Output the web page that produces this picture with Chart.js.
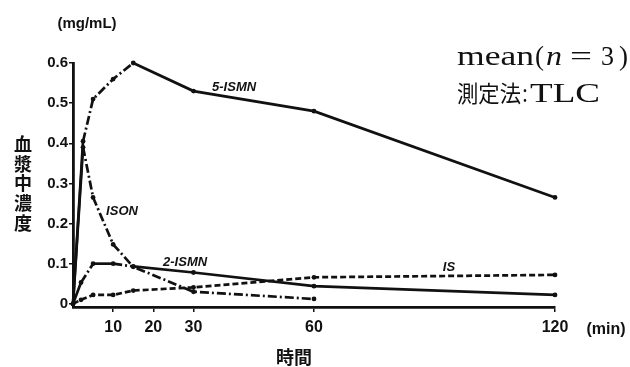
<!DOCTYPE html>
<html><head><meta charset="utf-8">
<script src="https://cdn.jsdelivr.net/npm/chart.js@4"></script>
<style>html,body{margin:0;padding:0;background:#fff}#wrap{width:630px;height:367px}</style>
</head><body><div id="wrap"><canvas id="c" width="630" height="367"></canvas></div>
<script>
// ---- data (time in min, plasma concentration in mg/mL) ----
const times5ISMN = [0, 2.5, 5, 10, 15, 30, 60, 120];
const values5ISMN = [0, 0.405, 0.51, 0.56, 0.60, 0.53, 0.48, 0.265];
const timesISON = [0, 2.5, 5, 10, 15, 30, 60];
const valuesISON = [0, 0.39, 0.265, 0.148, 0.092, 0.03, 0.012];
const times2ISMN = [0, 2, 5, 10, 15, 30, 60, 120];
const values2ISMN = [0, 0.053, 0.10, 0.10, 0.093, 0.078, 0.044, 0.022];
const timesIS = [0, 2, 5, 10, 15, 30, 60, 120];
const valuesIS = [0, 0.01, 0.022, 0.022, 0.033, 0.041, 0.066, 0.072];
const xTickValues = [10, 20, 30, 60, 120];
const yTickValues = [0, 0.1, 0.2, 0.3, 0.4, 0.5, 0.6];
const seriesNames = ['5-ISMN', 'ISON', '2-ISMN', 'IS'];

const ink = '#111';
const pts = (t, v) => t.map((x, i) => ({x: x, y: v[i]}));
const dashDot = [9, 3, 2, 3];
const dashed = [6, 3];

const base = {
  borderColor: ink, borderWidth: 2.7, pointRadius: 2.4, pointHoverRadius: 2.4,
  pointBackgroundColor: ink, pointBorderColor: ink, pointBorderWidth: 0,
  fill: false, tension: 0, clip: false
};

const labelPlugin = {
  id: 'texts',
  afterDraw(chart) {
    const c = chart.ctx, xs = chart.scales.x, ys = chart.scales.y;
    c.save();
    c.fillStyle = ink;
    c.textBaseline = 'middle';
    c.textAlign = 'center';
    // axis texts
    c.font = 'bold 15px "Liberation Sans", Arial, sans-serif';
    c.fillText('(mg/mL)', 87, 24);
    c.font = 'bold 16px "Liberation Sans", Arial, sans-serif';
    c.fillText('(min)', 606, 330);
    c.font = 'bold 18px "Noto Sans CJK JP", sans-serif';
    c.fillText('時間', 294, 357);
    const yt = ['血', '漿', '中', '濃', '度'];
    yt.forEach((ch, i) => c.fillText(ch, 23, 144 + i * 19.8));
    // series labels
    c.font = 'italic bold 13px "Liberation Sans", Arial, sans-serif';
    const lp = [[40.1, 0.54], [12.2, 0.229], [27.9, 0.103], [93.6, 0.09]];
    seriesNames.forEach((n, i) => c.fillText(n, xs.getPixelForValue(lp[i][0]), ys.getPixelForValue(lp[i][1])));
    // note text
    c.textAlign = 'left';
    c.textBaseline = 'alphabetic';
    function fit(txt, x, w, y, font) {
      c.font = font;
      const m = c.measureText(txt).width;
      c.save();
      c.translate(x, y);
      c.scale(w / m, 1);
      c.fillText(txt, 0, 0);
      c.restore();
    }
    const serif = '27px "Liberation Serif", "DejaVu Serif", serif';
    fit('mean', 457, 77, 65, serif);
    fit('(', 535, 9, 65, serif);
    fit('n', 546, 16, 65, 'italic ' + serif);
    fit('=', 570, 22, 65, serif);
    fit('3', 601, 13, 65, serif);
    fit(')', 619, 9, 65, serif);
    fit('測定法', 457, 64, 102, '23px "Noto Sans CJK JP", sans-serif');
    fit(':', 522, 6, 102, serif);
    fit('TLC', 530, 70, 102, serif);
    c.restore();
  }
};

new Chart(document.getElementById('c'), {
  type: 'line',
  data: {
    datasets: [
      Object.assign({}, base, {label: seriesNames[0], data: pts(times5ISMN, values5ISMN),
        segment: {borderDash: s => (s.p0.parsed.x >= 2 && s.p1.parsed.x <= 15) ? dashDot : undefined}}),
      Object.assign({}, base, {label: seriesNames[1], data: pts(timesISON, valuesISON),
        segment: {borderDash: s => (s.p0.parsed.x >= 2) ? dashDot : undefined}}),
      Object.assign({}, base, {label: seriesNames[2], data: pts(times2ISMN, values2ISMN),
        segment: {borderDash: s => (s.p0.parsed.x >= 1 && s.p1.parsed.x <= 15 && !(s.p0.parsed.x >= 5 && s.p1.parsed.x <= 10)) ? dashDot : undefined}}),
      Object.assign({}, base, {label: seriesNames[3], data: pts(timesIS, valuesIS), borderDash: dashed,
        pointStyle: 'circle'})
    ]
  },
  options: {
    responsive: false, animation: false, events: [],
    layout: {padding: {top: 63, right: 75, left: 0, bottom: 0}},
    plugins: {legend: {display: false}, tooltip: {enabled: false}},
    scales: {
      x: {
        type: 'linear', min: 0, max: 120,
        afterBuildTicks: s => { s.ticks = xTickValues.map(v => ({value: v})); },
        afterFit: s => { s.height = 60; },
        ticks: {color: ink, autoSkip: false, maxRotation: 0, padding: 6,
          font: {family: '"Liberation Sans", Arial, sans-serif', size: 16, weight: 'bold'}},
        grid: {display: true, drawOnChartArea: false, drawTicks: true, tickLength: 5, color: ink, lineWidth: 1.5},
        border: {display: true, color: ink, width: 2.8}
      },
      y: {
        type: 'linear', min: -0.008, max: 0.6,
        afterBuildTicks: s => { s.ticks = yTickValues.map(v => ({value: v})); },
        afterFit: s => { s.width = 73; },
        ticks: {color: ink, padding: 1, callback: v => v === 0 ? '0' : v.toFixed(1),
          font: {family: '"Liberation Sans", Arial, sans-serif', size: 15, weight: 'bold'}},
        grid: {display: true, drawOnChartArea: false, drawTicks: true, tickLength: 4, color: ink, lineWidth: 1.5},
        border: {display: true, color: ink, width: 2.8}
      }
    }
  },
  plugins: [labelPlugin]
});
</script>
</body></html>
